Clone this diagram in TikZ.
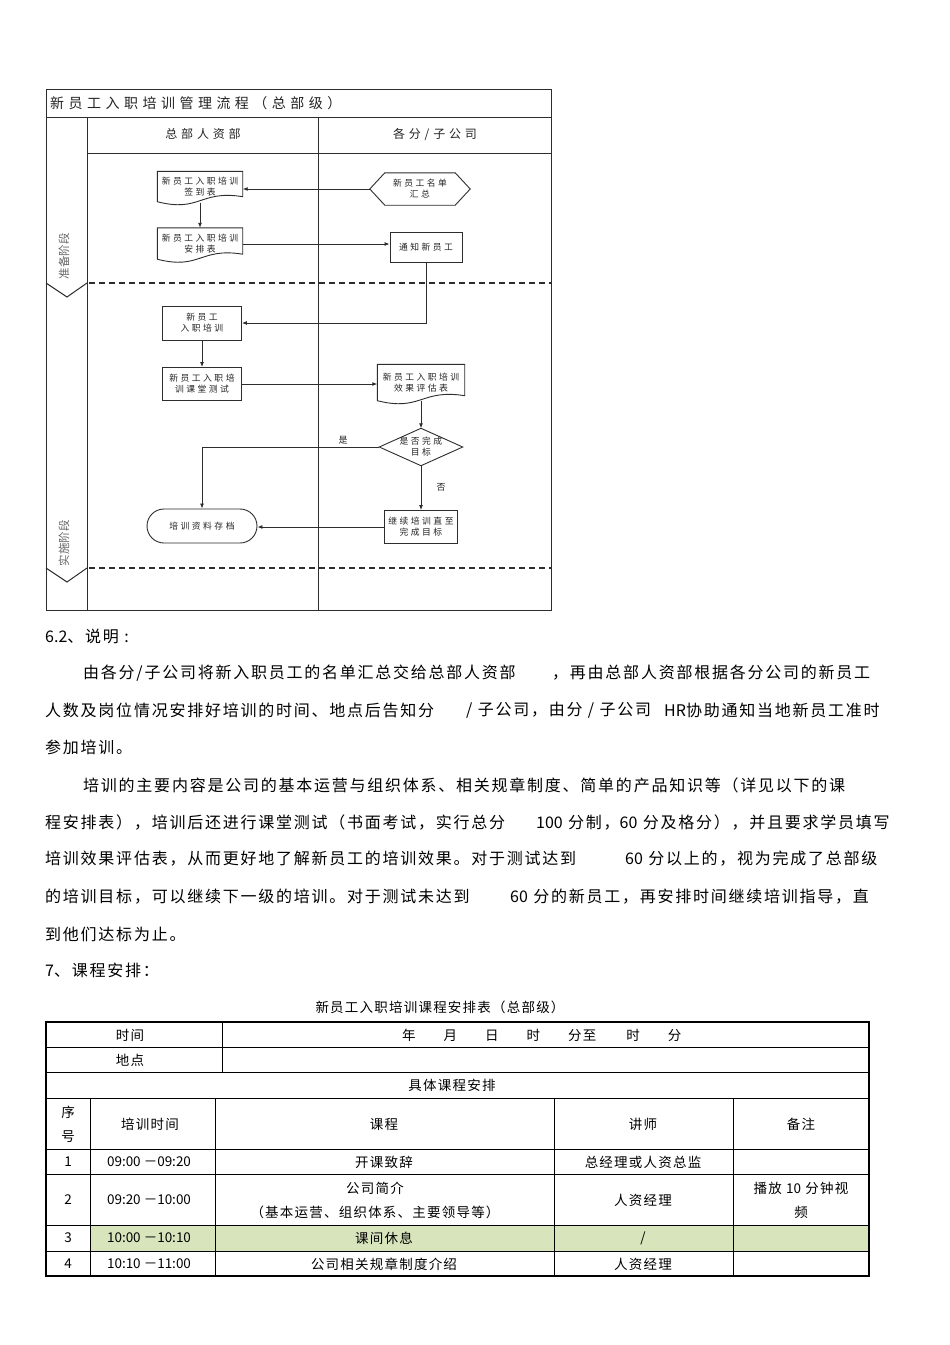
\documentclass[tikz,border=0pt]{standalone}
\usepackage{fontspec}
\setmainfont{Liberation Sans}
\newfontfamily\cjk{Noto Sans CJK SC}
\newfontfamily\cjkbody{Noto Sans CJK SC}[LetterSpace=11]
\newfontfamily\cjktab{Noto Sans CJK SC}[LetterSpace=9]
\newfontfamily\cjkhead{Noto Sans CJK SC}[LetterSpace=32]
\newfontfamily\cjkflow{Noto Sans CJK SC}[LetterSpace=28]
\newcommand{\nls}[1]{{\cjk #1}}
\usetikzlibrary{arrows.meta,calc}
\definecolor{rowgreen}{RGB}{216,228,188}
\definecolor{flowline}{RGB}{45,45,45}
\definecolor{flowtext}{RGB}{35,35,35}
\newcommand{\docpath}[1]{%
  \draw[fline] (#1.north west) -- (#1.north east) -- ($(#1.south east)+(0,-6)$)
  .. controls ($(#1.south west)!0.5!(#1.south east)+(0,-13)$) and ($(#1.south west)!0.5!(#1.south east)+(0,10)$) .. ($(#1.south west)+(0,-1)$) -- cycle;}
\begin{document}
\begin{tikzpicture}[x=1pt,y=-1pt,
  fline/.style={draw=flowline,line width=0.9pt},
  frame/.style={draw=flowline,line width=1pt},
  phasedash/.style={draw=flowline,line width=2pt,dash pattern=on 6pt off 4pt},
  arr/.style={fline,-{Latex[length=5pt,width=4pt]}},
  fnode/.style={align=center,inner sep=0pt,font=\cjkflow\fontsize{8.8}{11}\selectfont,text=flowtext},
  rectnode/.style={fnode,draw=flowline,line width=0.9pt},
  lbl/.style={inner sep=0pt,font=\cjk\fontsize{9}{10}\selectfont,text=flowtext},
  lanehead/.style={inner sep=0pt,font=\cjkhead\fontsize{12}{14}\selectfont,text=flowtext},
  phase/.style={inner sep=0pt,rotate=90,font=\cjk\fontsize{11.5}{13}\selectfont,text=black!60},
  body/.style={anchor=west,inner sep=0pt,font=\cjkbody\fontsize{16}{18}\selectfont},
  tab/.style={inner sep=0pt,align=center,font=\cjktab\fontsize{13.5}{24}\selectfont},
  tline/.style={draw=black,line width=0.7pt},
  touter/.style={draw=black,line width=1.4pt}]
\useasboundingbox[fill=white] (0,0) rectangle (950,1345);

% ---------------- swimlane frame ----------------
\draw[frame] (46,89) rectangle (551,610);
\draw[frame] (46,117) -- (551,117);
\draw[frame] (87,117) -- (87,610);
\draw[frame] (87,153) -- (551,153);
\draw[frame] (318,117) -- (318,610);
\draw[phasedash] (89,283) -- (551,283);
\draw[phasedash] (89,568) -- (551,568);
\draw[frame] (46,283) -- (67,297) -- (87,283);
\draw[frame] (46,568) -- (67,582) -- (87,568);

\node[anchor=west,inner sep=0pt,font=\cjkhead\fontsize{14}{16}\selectfont,text=flowtext] (title) at (50,103) {新员工入职培训管理流程（总部级）};
\node[lanehead] (hr) at (203,134) {总部人资部};
\node[lanehead] (sub) at (435,134) {各分/子公司};
\node[phase] (ph1) at (64,256) {准备阶段};
\node[phase] (ph2) at (64,543) {实施阶段};

% ---------------- flow nodes ----------------
\node[fnode,minimum width=85pt,minimum height=31pt] (d1) at (200,187) {新员工入职培训\\签到表};
\docpath{d1}
\node[fnode,minimum width=85pt,minimum height=32pt] (d2) at (200,244) {新员工入职培训\\安排表};
\docpath{d2}
\node[fnode,minimum width=100pt,minimum height=32pt] (hx) at (420,189) {新员工名单\\汇总};
\draw[fline] (hx.west) -- ($(hx.north west)+(15,0)$) -- ($(hx.north east)+(-15,0)$) -- (hx.east)
  -- ($(hx.south east)+(-15,0)$) -- ($(hx.south west)+(15,0)$) -- cycle;
\node[rectnode,minimum width=72pt,minimum height=30pt] (n1) at (426,247) {通知新员工};
\node[rectnode,minimum width=79pt,minimum height=34pt] (r1) at (202,323) {新员工\\入职培训};
\node[rectnode,minimum width=79pt,minimum height=33pt] (r2) at (202,384) {新员工入职培\\训课堂测试};
\node[fnode,minimum width=87pt,minimum height=37pt] (d3) at (421,383) {新员工入职培训\\效果评估表};
\docpath{d3}
\node[fnode,minimum width=83pt,minimum height=37pt] (dm) at (421,447) {是否完成\\目标};
\draw[fline] (dm.west) -- (dm.north) -- (dm.east) -- (dm.south) -- cycle;
\node[rectnode,minimum width=73pt,minimum height=33pt] (r3) at (421,527) {继续培训直至\\完成目标};
\node[rectnode,minimum width=110pt,minimum height=34pt,rounded corners=17pt] (tm) at (202,526) {培训资料存档};

% ---------------- connectors ----------------
\draw[arr] (hx.west) -- (hx.west -| d1.east);
\draw[arr] (d1.south) -- (d2.north);
\draw[arr] (d2.east) -- (d2.east -| n1.west);
\draw[arr] (n1.south) |- (r1.east);
\draw[arr] (r1.south) -- (r2.north);
\draw[arr] (r2.east) -- (r2.east -| d3.west);
\draw[arr] ($(d3.south)+(0,-1)$) -- (dm.north);
\draw[arr] (dm.west) -| (tm.north);
\draw[arr] (dm.south) -- (r3.north);
\draw[arr] (r3.west) -- (r3.west -| tm.east);
\node[lbl] (yes) at (343,440) {是};
\node[lbl] (no) at (441,487) {否};

% ---------------- explanation text ----------------
\node[body] (p0) at (45,636) {\nls{6.2}、说明 \nls{:}};
\node[body] (p1a) at (83,673) {由各分/子公司将新入职员工的名单汇总交给总部人资部};
\node[body] (p1b) at (552,673) {，再由总部人资部根据各分公司的新员工};
\node[body] (p2a) at (45,710) {人数及岗位情况安排好培训的时间、地点后告知分};
\node[body] (p2b) at (466,710) {/ 子公司，由分 / 子公司};
\node[body] (p2c) at (664,710) {\nls{HR}协助通知当地新员工准时};
\node[body] (p3) at (45,747) {参加培训。};
\node[body] (p4) at (83,785) {培训的主要内容是公司的基本运营与组织体系、相关规章制度、简单的产品知识等（详见以下的课};
\node[body] (p5a) at (45,822) {程安排表），培训后还进行课堂测试（书面考试，实行总分};
\node[body] (p5b) at (536,822) {\nls{100} 分制，\nls{60} 分及格分），并且要求学员填写};
\node[body] (p6a) at (45,859) {培训效果评估表，从而更好地了解新员工的培训效果。对于测试达到};
\node[body] (p6b) at (625,859) {\nls{60} 分以上的，视为完成了总部级};
\node[body] (p7a) at (45,897) {的培训目标，可以继续下一级的培训。对于测试未达到};
\node[body] (p7b) at (510,897) {\nls{60} 分的新员工，再安排时间继续培训指导，直};
\node[body] (p8) at (45,934) {到他们达标为止。};
\node[body] (p9) at (45,970) {\nls{7}、课程安排：};

% ---------------- table ----------------
\node[tab] (cap) at (440,1007) {新员工入职培训课程安排表（总部级）};
\fill[rowgreen] (90,1225) rectangle (869,1251);
\foreach \yy in {1047,1072,1098,1149,1174,1225,1251}{\draw[tline] (46,\yy) -- (869,\yy);}
\draw[tline] (222,1022) -- (222,1072);
\foreach \xx in {90,215,554,733}{\draw[tline] (\xx,1098) -- (\xx,1276);}
\draw[touter] (46,1022) rectangle (869,1276);

\node[tab] (c11) at (130,1035) {时间};
\node[tab,anchor=west] (c12) at (402,1035) {年\hspace{28pt}月\hspace{28pt}日\hspace{28pt}时\hspace{28pt}分至\hspace{30pt}时\hspace{28pt}分};
\node[tab] (c21) at (130,1060) {地点};
\node[tab] (c31) at (452,1085) {具体课程安排};
\node[tab] (h1) at (68,1124) {序\\号};
\node[tab] (h2) at (150,1124) {培训时间};
\node[tab] (h3) at (384,1124) {课程};
\node[tab] (h4) at (643,1124) {讲师};
\node[tab] (h5) at (801,1124) {备注};
\node[tab] (a1) at (68,1162) {\nls{1}};
\node[tab] (a2) at (149,1162) {\nls{09:00 －09:20}};
\node[tab] (a3) at (384,1162) {开课致辞};
\node[tab] (a4) at (643,1162) {总经理或人资总监};
\node[tab] (b1) at (68,1200) {\nls{2}};
\node[tab] (b2) at (149,1200) {\nls{09:20 －10:00}};
\node[tab] (b3) at (375,1200) {公司简介\\（基本运营、组织体系、主要领导等）};
\node[tab] (b4) at (643,1200) {人资经理};
\node[tab] (b5) at (801,1200) {播放 \nls{10} 分钟视\\频};
\node[tab] (e1) at (68,1238) {\nls{3}};
\node[tab] (e2) at (149,1238) {\nls{10:00 －10:10}};
\node[tab] (e3) at (384,1238) {课间休息};
\node[tab] (e4) at (643,1238) {\nls{/}};
\node[tab] (f1) at (68,1264) {\nls{4}};
\node[tab] (f2) at (149,1264) {\nls{10:10 －11:00}};
\node[tab] (f3) at (384,1264) {公司相关规章制度介绍};
\node[tab] (f4) at (643,1264) {人资经理};
\end{tikzpicture}
\end{document}
